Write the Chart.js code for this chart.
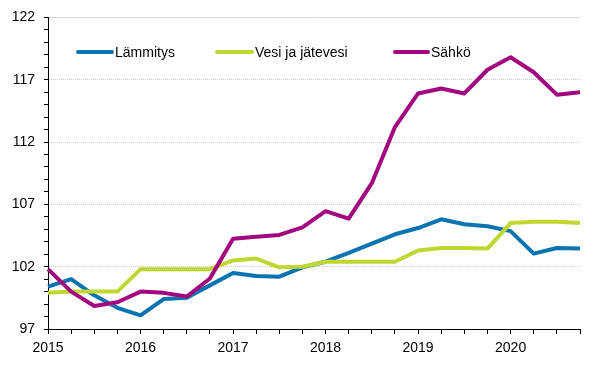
<!DOCTYPE html>
<html>
<head>
<meta charset="utf-8">
<script src="https://cdn.jsdelivr.net/npm/chart.js@4"></script>
<style>
html,body{margin:0;padding:0;background:#fff;}
#wrap{width:615px;height:381px;position:relative;}
</style>
</head>
<body>
<div id="wrap"><canvas id="c" width="615" height="381"></canvas></div>
<script>
const quarters = ["2015","2015Q2","2015Q3","2015Q4","2016","2016Q2","2016Q3","2016Q4",
  "2017","2017Q2","2017Q3","2017Q4","2018","2018Q2","2018Q3","2018Q4",
  "2019","2019Q2","2019Q3","2019Q4","2020","2020Q2","2020Q3","2020Q4"];
const lammitys = [100.4,101.0,99.7,98.7,98.1,99.4,99.5,100.5,101.5,101.25,101.2,101.95,
  102.4,103.1,103.85,104.6,105.1,105.8,105.4,105.25,104.85,103.05,103.5,103.45];
const vesi = [99.9,100.0,100.0,100.0,101.8,101.8,101.8,101.8,102.5,102.65,101.95,102.0,
  102.4,102.4,102.4,102.4,103.3,103.5,103.5,103.45,105.5,105.6,105.6,105.5];
const sahko = [101.8,100.0,98.85,99.15,100.0,99.9,99.6,101.05,104.25,104.4,104.55,105.15,
  106.45,105.85,108.7,113.2,115.9,116.3,115.9,117.8,118.8,117.6,115.8,116.0];
const seriesNames = ["Lämmitys","Vesi ja jätevesi","Sähkö"];
const yMin = 97, yMax = 122, yMajorStep = 5;

const colors = ["#0A73B1","#BFD730","#A2077F"];
const font = {family:"'Liberation Sans', Arial, sans-serif", size:14};

const legendPlugin = {
  id:'insideLegend',
  afterDatasetsDraw(chart){
    const ctx = chart.ctx;
    const pos = [{x:78,t:115},{x:217,t:255},{x:395,t:431}];
    const y = 52;
    ctx.save();
    chart.data.datasets.forEach((ds,i)=>{
      ctx.strokeStyle = ds.borderColor;
      ctx.lineWidth = 4;
      ctx.lineCap = 'round';
      ctx.beginPath();
      ctx.moveTo(pos[i].x, y);
      ctx.lineTo(pos[i].t - 3, y);
      ctx.stroke();
      ctx.fillStyle = '#000';
      ctx.font = font.size + "px " + font.family;
      ctx.textBaseline = 'middle';
      ctx.textAlign = 'left';
      ctx.fillText(ds.label, pos[i].t, y+1);
    });
    ctx.restore();
  }
};

const isMajor = v => (v - yMin) % yMajorStep === 0 && v !== yMin;

new Chart(document.getElementById('c'), {
  type:'line',
  data:{
    labels: quarters,
    datasets:[
      {label:seriesNames[0], data:lammitys, borderColor:colors[0], backgroundColor:colors[0], order:2},
      {label:seriesNames[1], data:vesi, borderColor:colors[1], backgroundColor:colors[1], order:1},
      {label:seriesNames[2], data:sahko, borderColor:colors[2], backgroundColor:colors[2], order:0}
    ]
  },
  options:{
    responsive:false,
    animation:false,
    devicePixelRatio:1,
    layout:{padding:{top:16,right:35,left:0,bottom:0}},
    elements:{
      line:{borderWidth:4, tension:0, borderJoinStyle:'round', borderCapStyle:'butt'},
      point:{radius:0, hoverRadius:0}
    },
    plugins:{legend:{display:false}, tooltip:{enabled:false}},
    scales:{
      x:{
        type:'category',
        offset:false,
        grid:{drawOnChartArea:false, drawTicks:true, tickLength:5, tickColor:'#000'},
        border:{color:'#000', width:1},
        ticks:{
          autoSkip:false, maxRotation:0, color:'#000', font:font, padding:6,
          callback:(v,i)=> i%4===0 ? quarters[i].slice(0,4) : ''
        },
        afterFit:s=>{ s.height = 52; }
      },
      y:{
        min:yMin, max:yMax,
        grid:{
          drawTicks:true, tickLength:4, tickColor:'#000',
          color:ctx=> (ctx.tick && isMajor(ctx.tick.value)) ? (ctx.tick.value === yMax ? '#dcdcdc' : '#cacaca') : 'rgba(0,0,0,0)',
          lineWidth:1
        },
        border:{color:'#000', width:1, dash:ctx=> (ctx.tick && ctx.tick.value === yMax) ? [] : [1,1]},
        ticks:{
          stepSize:1, color:'#000', font:font, padding:9, autoSkip:false,
          callback:v=> ((v - yMin) % yMajorStep === 0) ? String(v) : ''
        },
        afterFit:s=>{ s.width = 48; }
      }
    }
  },
  plugins:[legendPlugin]
});
</script>
</body>
</html>
